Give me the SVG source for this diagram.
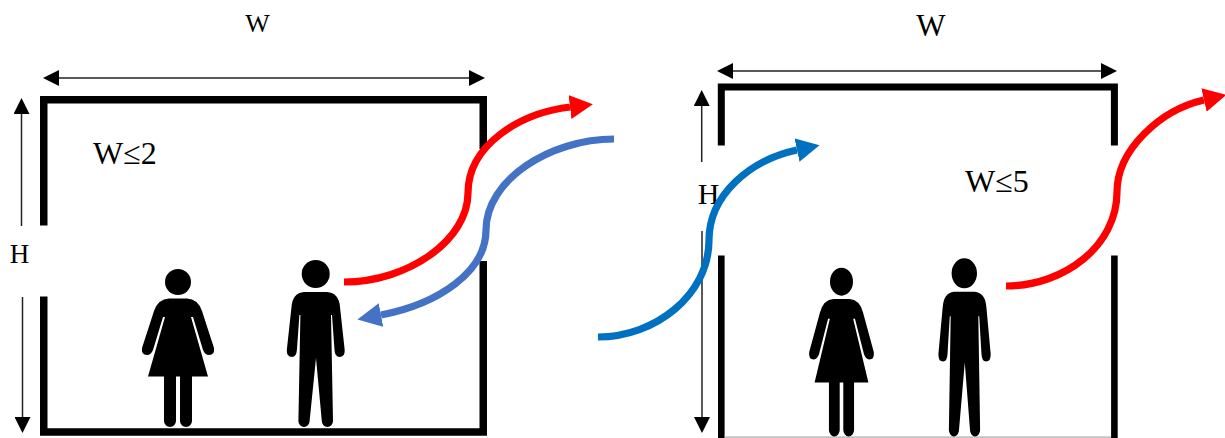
<svg xmlns="http://www.w3.org/2000/svg" width="1225" height="438" viewBox="0 0 1225 438">
  <style>
    .t { font-family: "Liberation Serif", "Times New Roman", serif; fill: #000; }
    .wall { fill: none; stroke: #000; stroke-linejoin: miter; stroke-linecap: butt; }
    .dim { fill: none; stroke: #222; stroke-width: 1.5; }
    .flow { fill: none; stroke-width: 7.2; stroke-linecap: butt; }
  </style>
  <defs>
    <marker id="dimHead" markerUnits="userSpaceOnUse" markerWidth="16" markerHeight="16" refX="0" refY="8" orient="auto-start-reverse" viewBox="0 0 16 16"><path d="M0,0L16,8L0,16Z" fill="#000"/></marker>
    <marker id="headRed" markerUnits="userSpaceOnUse" markerWidth="24" markerHeight="24" refX="0" refY="12" orient="auto" viewBox="0 0 24 24"><path d="M0,0L23,12L0,24Z" fill="#ff0000"/></marker>
    <marker id="headSteel" markerUnits="userSpaceOnUse" markerWidth="24" markerHeight="24" refX="0" refY="12" orient="auto" viewBox="0 0 24 24"><path d="M0,0L24,12L0,24Z" fill="#4472c4"/></marker>
    <marker id="headBlue" markerUnits="userSpaceOnUse" markerWidth="24" markerHeight="24" refX="0" refY="12" orient="auto" viewBox="0 0 24 24"><path d="M0,0L23,12L0,24Z" fill="#0070c0"/></marker>
    <path id="womanBody" d="M169,298.5H187Q198,299 202,311L214,348Q215,355 209,355Q205,355 203,350L193,317L191,317L208,376.5H192V421a6,6 0 0 1 -12,0V376.5H176V421a6,6 0 0 1 -12,0V376.5H148L165,317L163,317L153,350Q151,355 147,355Q141,355 142,348L154,311Q158,299 169,298.5Z"/>
    <path id="manBody" d="M304,292H327Q339,293 340,307L344.7,350Q345,357 339.5,357Q335,357 334.5,350L332,315L331,315L333,421a5.6,6 0 0 1 -11.2,0L316,358L309.6,421a5.6,6 0 0 1 -11.2,0L300.4,315L299.4,315L296.9,350Q296.4,357 292,357Q286.5,357 286.8,350L291.5,307Q292.5,293 304,292Z"/>
  </defs>

  <g id="room-left">
    <path class="wall" stroke-width="7.5" d="M43.75,225.5V99.75H483.25V149"/>
    <path class="wall" stroke-width="7.5" d="M43.75,296.5V432H483.25V261"/>
  </g>
  <g id="room-right">
    <path class="wall" stroke-width="7" d="M721.3,145.5V87H1114.4V145.5"/>
    <path class="wall" stroke-width="6.6" d="M721.3,255.5V438"/>
    <path class="wall" stroke-width="6.6" d="M1114.4,255.5V438"/>
    <path fill="none" stroke="#aaa" stroke-width="1.2" d="M724.5,437.2H1111"/>
  </g>

  <g id="woman-left"><circle cx="178" cy="282" r="13"/><use href="#womanBody"/></g>
  <g id="man-left"><circle cx="315.7" cy="274" r="14"/><use href="#manBody"/></g>
  <g id="woman-right"><ellipse cx="841.5" cy="281.7" rx="11.5" ry="14"/><use href="#womanBody" transform="translate(841.5 299) scale(.897 1.07) translate(-178 -298.5)"/></g>
  <g id="man-right"><ellipse cx="964.3" cy="273.3" rx="12.7" ry="15"/><use href="#manBody" transform="translate(964.5 291.7) scale(.903 1.072) translate(-315.7 -292)"/></g>

  <g id="labels">
    <text class="t" x="257.5" y="32" font-size="26" text-anchor="middle">W</text>
    <text class="t" x="19.5" y="263" font-size="27" text-anchor="middle">H</text>
    <text class="t" x="93" y="164" font-size="32">W≤2</text>
    <text class="t" x="931" y="36" font-size="31" text-anchor="middle">W</text>
    <text class="t" x="708.5" y="204" font-size="30" text-anchor="middle">H</text>
    <text class="t" x="965" y="191.5" font-size="32">W≤5</text>
  </g>

  <g id="connectors">
    <path class="dim" d="M59,78H469" marker-start="url(#dimHead)" marker-end="url(#dimHead)"/>
    <path class="dim" d="M21.5,226V114" marker-end="url(#dimHead)"/>
    <path class="dim" d="M22.5,297V417" marker-end="url(#dimHead)"/>
    <path class="dim" d="M733,71H1101" marker-start="url(#dimHead)" marker-end="url(#dimHead)"/>
    <path class="dim" d="M701.7,162V106" marker-end="url(#dimHead)"/>
    <path class="dim" d="M702,231V417" marker-end="url(#dimHead)"/>
    <path class="flow" stroke="#ff0000" d="M344,282C408,282 468,240 468,193C468,145 520,113 570,107" marker-end="url(#headRed)"/>
    <path class="flow" stroke="#4472c4" d="M614,139C550,139 486,180 486,230C486,272 438,304 381,315" marker-end="url(#headSteel)"/>
    <path class="flow" stroke="#0070c0" d="M598,337C655,337 709,295 709,240C709,195 750,160 797,150" marker-end="url(#headBlue)"/>
    <path class="flow" stroke="#ff0000" d="M1006,286C1065,286 1117,245 1117,192C1117,150 1160,110 1204,100" marker-end="url(#headRed)"/>
  </g>
</svg>
